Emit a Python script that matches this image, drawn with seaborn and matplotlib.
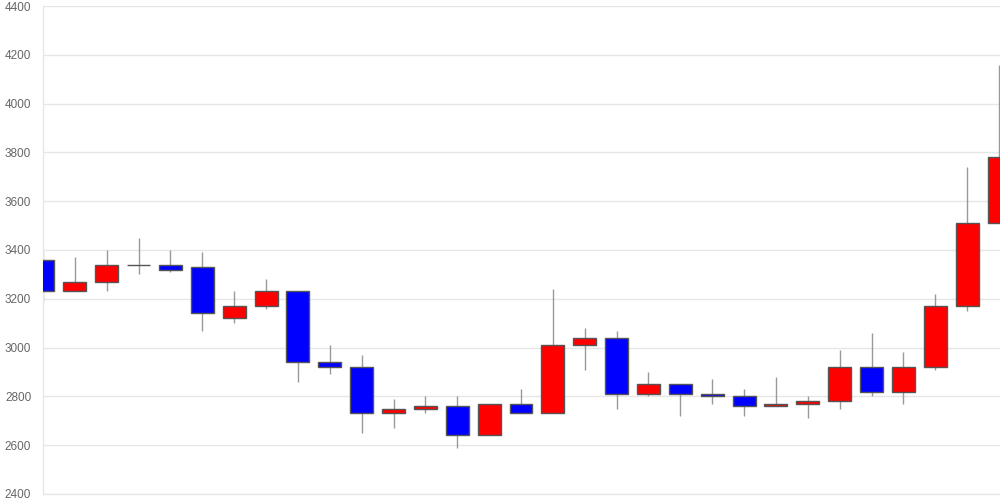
import numpy as np
import pandas as pd
import matplotlib
matplotlib.use("Agg")
import matplotlib.pyplot as plt
import seaborn as sns

# daily OHLC values
opens  = [3360, 3230, 3270, 3340, 3340, 3330, 3120, 3170, 3230, 2940,
          2920, 2730, 2750, 2760, 2640, 2770, 2730, 3010, 3040, 2810,
          2850, 2810, 2800, 2760, 2770, 2780, 2920, 2820, 2920, 3170, 3510]
highs  = [3390, 3370, 3400, 3450, 3400, 3390, 3230, 3280, 3230, 3010,
          2970, 2790, 2800, 2800, 2770, 2830, 3240, 3080, 3070, 2900,
          2850, 2870, 2830, 2880, 2800, 2990, 3060, 2980, 3220, 3740, 4160]
lows   = [3190, 3230, 3230, 3300, 3310, 3070, 3100, 3160, 2860, 2890,
          2650, 2670, 2730, 2590, 2640, 2730, 2730, 2910, 2750, 2800,
          2720, 2770, 2720, 2760, 2710, 2750, 2800, 2770, 2910, 3150, 3510]
closes = [3230, 3270, 3340, 3340, 3320, 3140, 3170, 3230, 2940, 2920,
          2730, 2750, 2760, 2640, 2770, 2730, 3010, 3040, 2810, 2850,
          2810, 2800, 2760, 2770, 2780, 2920, 2820, 2920, 3170, 3510, 3780]
y_ticks = [2400, 2600, 2800, 3000, 3200, 3400, 3600, 3800, 4000, 4200, 4400]

df = pd.DataFrame({'Open': opens, 'High': highs, 'Low': lows, 'Close': closes})
df['x'] = np.arange(len(df))
df['Bottom'] = df[['Open', 'Close']].min(axis=1)
df['Height'] = (df['Close'] - df['Open']).abs()
df['Color'] = np.where(df['Close'] >= df['Open'], '#ff0000', '#0000ff')

sns.set_style("white")
plt.rcParams['font.family'] = ['Liberation Sans', 'DejaVu Sans']

fig = plt.figure(figsize=(10, 5), dpi=100)
ax = fig.add_axes([0.043, 0.012, 0.957, 0.976])

# wicks then bodies
ax.vlines(df['x'], df['Low'], df['High'], color='#999999', linewidth=1, zorder=2)
ax.bar(df['x'], df['Height'], bottom=df['Bottom'], width=0.72,
       color=df['Color'], edgecolor='#555555', linewidth=1, zorder=3)

ax.set_xlim(0, len(df) - 0.97)
ax.set_ylim(2400, 4400)
ax.set_yticks(y_ticks)
ax.set_xticks([])
ax.grid(axis='y', color='#e6e6e6', linewidth=1)
ax.set_axisbelow(True)
ax.tick_params(axis='y', length=8, color='#e6e6e6', labelcolor='#666666',
               labelsize=8.5, pad=0.5)

for side in ['top', 'right']:
    ax.spines[side].set_visible(False)
for side in ['left', 'bottom']:
    ax.spines[side].set_color('#e6e6e6')
    ax.spines[side].set_linewidth(1)

fig.savefig("out.png", dpi=100)
plt.close()
